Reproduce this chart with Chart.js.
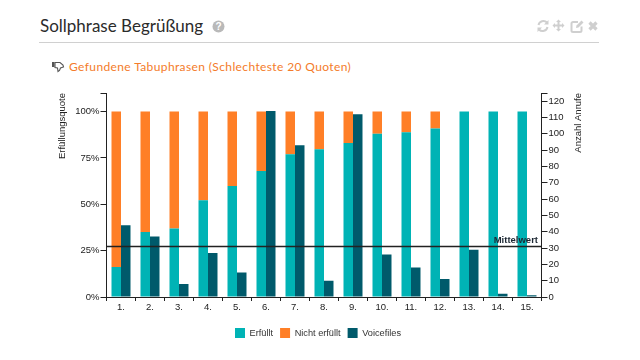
<!DOCTYPE html>
<html lang="de">
<head>
<meta charset="utf-8">
<script src="https://cdn.jsdelivr.net/npm/chart.js@4/dist/chart.umd.js"></script>
<style>
html,body{margin:0;padding:0;background:#fff;width:640px;height:360px;overflow:hidden}
#wrap{position:relative;width:640px;height:360px}
canvas{position:absolute;left:0;top:0}
.title{position:absolute;left:40px;top:14px;font:17px/24px Lato,sans-serif;color:#2b2b2b;letter-spacing:0;white-space:nowrap}
.sub{position:absolute;left:69px;top:58px;font:12px/18px Lato,sans-serif;color:#f47b2a;letter-spacing:.38px;white-space:nowrap}
.rule{position:absolute;left:39px;top:42px;width:560px;height:1px;background:#d0d0d0}
svg{position:absolute}
</style>
</head>
<body>
<div id="wrap">
<div class="title">Sollphrase Begrüßung</div>
<svg style="left:212px;top:20px" width="13" height="13" viewBox="0 0 13 13"><circle cx="6.5" cy="6.5" r="6" fill="#b9b9b9"/><text x="6.5" y="10" text-anchor="middle" font-family="Liberation Sans" font-weight="bold" font-size="10" fill="#fff">?</text></svg>
<svg style="left:536px;top:19px" width="64" height="14" viewBox="0 0 64 14" fill="none">
<path d="M2.5 6A5 5 0 0 1 11 3.5M11.5 8A5 5 0 0 1 3 10.5" stroke="#cfcfcf" stroke-width="2"/><path d="M12.5 1v4.500h-4.500zM1.500 13v-4.500h4.500z" fill="#cfcfcf"/>
<path d="M23.500 1l2.500 2.500h-1.500v2.500h2.500v-1.500l2.500 2.500-2.500 2.500v-1.500h-2.500v2.500h1.500l-2.500 2.500-2.500-2.500h1.500v-2.500h-2.500v1.500l-2.500-2.500 2.500-2.500v1.500h2.500v-2.500h-1.500z" fill="#cfcfcf" transform="translate(-1 -.5)"/>
<path d="M42 3h-5a1.500 1.500 0 0 0-1.500 1.500v7a1.500 1.500 0 0 0 1.500 1.500h7a1.500 1.500 0 0 0 1.500-1.500v-4" stroke="#cfcfcf" stroke-width="2"/><path d="M40 9l.5-2.500 5-5 2 2-5 5z" fill="#cfcfcf"/>
<path d="M53.500 3.500l7 7M60.500 3.500l-7 7" stroke="#cfcfcf" stroke-width="3.200"/>
</svg>
<div class="rule"></div>
<svg style="left:51px;top:60px" width="14" height="13" viewBox="0 0 14 13" fill="none" stroke="#555" stroke-width="1.100"><rect x="1" y="2" width="2.500" height="5" fill="#555" stroke="none"/><path d="M4 2.500h5l3 2.500.5 2-3 1-1 2.500-1.500 1-.5-3.500-2.500-.5z"/></svg>
<div class="sub">Gefundene Tabuphrasen (Schlechteste 20 Quoten)</div>
<canvas id="c" width="640" height="360"></canvas>
</div>
<script>
const categories = ["1.","2.","3.","4.","5.","6.","7.","8.","9.","10.","11.","12.","13.","14.","15."];
const fulfilled = [16.2,35,37,52.2,59.8,67.9,77,79.7,83,88,88.9,90.8,100,100,100];
const notFulfilled = [83.8,65,63,47.8,40.2,32.1,23,20.3,17,12,11.1,9.2,0,0,0];
const voicefiles = [44,37,8,27,15,114,93,10,112,26,18,11,29,2,1];
const meanValue = 27.6;
const meanLabel = "Mittelwert";
const leftTitle = "Erfüllungsquote";
const rightTitle = "Anzahl Anrufe";
const leftTicks = [0,25,50,75,100];
const rightTicks = [0,10,20,30,40,50,60,70,80,90,100,110,120];
const leftMax = 110;
const rightMax = 125;

const AXIS = "#222";
const FONT = {family:"'Liberation Sans',Arial,sans-serif",size:9.5};
const LEGEND_FONT = {family:"'Liberation Sans',Arial,sans-serif",size:9.2};

const extras = {
  id:"extras",
  afterLayout(chart){ chart.legend.right -= 4; },
  afterDatasetsDraw(chart){
    const {ctx,chartArea:a,scales} = chart;
    const y = Math.round(scales.y.getPixelForValue(meanValue))+0.5;
    ctx.save();
    ctx.strokeStyle="#222";ctx.lineWidth=1.3;
    ctx.beginPath();ctx.moveTo(a.left,y);ctx.lineTo(a.right,y);ctx.stroke();
    ctx.fillStyle="#1c2733";ctx.font="bold 9.5px 'Liberation Sans',Arial,sans-serif";
    ctx.textAlign="right";ctx.textBaseline="alphabetic";
    ctx.fillText(meanLabel,a.right-3.5,y-3.5);
    ctx.font="9.5px 'Liberation Sans',Arial,sans-serif";ctx.fillStyle="#222";
    ctx.textAlign="right";ctx.textBaseline="middle";
    [[leftTitle,62],[rightTitle,578]].forEach(([t,x])=>{
      ctx.save();ctx.translate(x,a.top);ctx.rotate(-Math.PI/2);ctx.fillText(t,0,0);ctx.restore();
    });
    ctx.restore();
  }
};

new Chart(document.getElementById("c"),{
  type:"bar",
  data:{labels:categories,datasets:[
    {label:"Erfüllt",data:fulfilled,backgroundColor:"#00B3B5",stack:"q",yAxisID:"y"},
    {label:"Nicht erfüllt",data:notFulfilled,backgroundColor:"#FF7F27",stack:"q",yAxisID:"y"},
    {label:"Voicefiles",data:voicefiles,backgroundColor:"#005A6B",stack:"v",yAxisID:"y1"}
  ]},
  options:{
    responsive:false,animation:false,
    layout:{padding:{left:0,right:0,top:93,bottom:12}},
    datasets:{bar:{categoryPercentage:0.655,barPercentage:1}},
    plugins:{
      tooltip:{enabled:false},
      title:{display:false},
      legend:{position:"bottom",align:"center",
        labels:{boxWidth:10,boxHeight:10,padding:7,color:"#333",font:LEGEND_FONT}}
    },
    scales:{
      x:{stacked:true,
        afterFit(s){s.height=24;},
        grid:{display:true,drawOnChartArea:false,drawTicks:true,tickLength:4,color:AXIS,offset:true},
        border:{display:true,color:AXIS},
        ticks:{color:"#222",font:FONT,padding:1,maxRotation:0,autoSkip:false}},
      y:{position:"left",stacked:true,min:0,max:leftMax,
        afterFit(s){s.width=106.5;},
        afterBuildTicks(s){s.ticks=[...leftTicks,leftMax].map(value=>({value}));},
        grid:{drawOnChartArea:false,drawTicks:true,tickLength:6,color:AXIS},
        border:{display:true,color:AXIS},
        ticks:{autoSkip:false,color:"#222",font:FONT,padding:1,
          callback(v){return leftTicks.includes(v)?v+"%":"";}}},
      y1:{position:"right",stacked:true,min:0,max:rightMax,
        afterFit(s){s.width=98.5;},
        afterBuildTicks(s){s.ticks=[...rightTicks,rightMax].map(value=>({value}));},
        grid:{drawOnChartArea:false,drawTicks:true,tickLength:6,color:AXIS},
        border:{display:true,color:AXIS},
        ticks:{autoSkip:false,color:"#222",font:FONT,padding:1,
          callback(v){return rightTicks.includes(v)?String(v):"";}}}
    }
  },
  plugins:[extras]
});
</script>
</body>
</html>
